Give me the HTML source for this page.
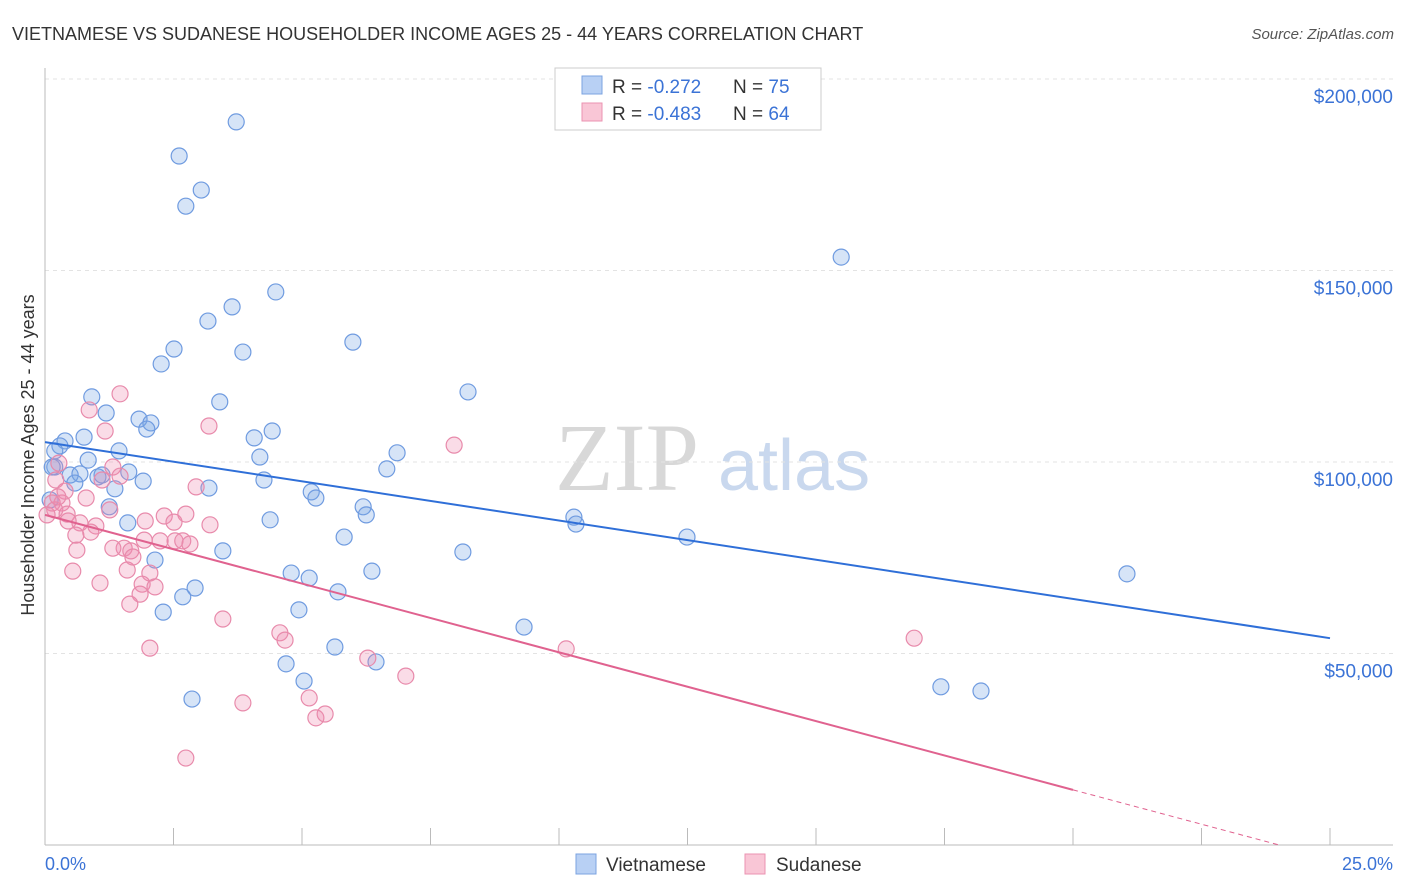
<!DOCTYPE html>
<html><head><meta charset="utf-8"><style>
body{margin:0;background:#fff;font-family:"Liberation Sans",sans-serif;}
svg{display:block}
</style></head><body>
<svg id="chart" width="1406" height="892">
<text x="12" y="40" font-size="18" fill="#333">VIETNAMESE VS SUDANESE HOUSEHOLDER INCOME AGES 25 - 44 YEARS CORRELATION CHART</text>
<text x="1394" y="39" font-size="15" fill="#555" font-style="italic" text-anchor="end">Source: ZipAtlas.com</text>
<text x="555" y="490" font-size="96" fill="#d8d8d8" font-family="Liberation Serif,serif">ZIP</text>
<text x="718" y="490" font-size="72" fill="#c9d8ee">atlas</text>
<text transform="translate(34,455) rotate(-90)" font-size="18" fill="#333" text-anchor="middle">Householder Income Ages 25 - 44 years</text>
<g id="grid"></g><g id="pts"></g><g id="lines"></g>
<g>
<rect x="555" y="68" width="266" height="62" fill="#fff" stroke="#ccc"/>
<rect x="582" y="76" width="20" height="18" fill="#b8d0f4" stroke="#7ba3e0"/>
<rect x="582" y="103" width="20" height="18" fill="#f9c6d6" stroke="#eb93b1"/>
<text x="612" y="93" font-size="19" fill="#333">R = <tspan fill="#3b73d6">-0.272</tspan></text>
<text x="733" y="93" font-size="19" fill="#333">N = <tspan fill="#3b73d6">75</tspan></text>
<text x="612" y="120" font-size="19" fill="#333">R = <tspan fill="#3b73d6">-0.483</tspan></text>
<text x="733" y="120" font-size="19" fill="#333">N = <tspan fill="#3b73d6">64</tspan></text>
</g>
<text x="45" y="870" font-size="18" fill="#3b73d6">0.0%</text>
<text x="1393" y="870" font-size="18" fill="#3b73d6" text-anchor="end">25.0%</text>
<rect x="576" y="854" width="20" height="20" fill="#b8d0f4" stroke="#7ba3e0"/>
<text x="606" y="871" font-size="19" fill="#333">Vietnamese</text>
<rect x="745" y="854" width="20" height="20" fill="#f9c6d6" stroke="#eb93b1"/>
<text x="776" y="871" font-size="19" fill="#333">Sudanese</text>
</svg>
<script>
const yTicks=[50000,100000,150000,200000];
const yTickLabels=["$50,000","$100,000","$150,000","$200,000"];
const viX=[3.72,2.61,3.04,2.74,15.49,4.49,3.64,3.17,2.51,3.85,5.99,2.26,8.23,0.91,3.40,1.19,1.83,2.06,1.98,0.76,0.39,0.29,0.19,4.07,4.42,1.44,6.85,4.18,0.84,6.65,0.19,1.63,0.49,0.68,1.03,1.11,4.26,1.91,1.36,0.58,3.19,5.18,5.27,6.19,6.25,10.29,10.33,4.38,1.25,1.61,5.82,12.49,8.13,3.46,2.14,21.05,4.79,5.14,6.36,5.70,2.92,2.68,4.94,2.30,9.32,5.64,4.69,6.44,5.04,17.43,18.21,2.86,0.14,0.10];
const viY=[188.8,179.9,171.0,166.8,153.5,144.4,140.5,136.8,129.5,128.7,131.3,125.6,118.3,117.0,115.7,112.8,111.2,110.2,108.6,106.5,105.5,104.2,102.9,106.3,108.1,102.9,102.4,101.3,100.5,98.2,98.7,97.4,96.6,96.9,96.1,96.6,95.3,95.0,93.0,94.5,93.2,92.2,90.6,88.3,86.2,85.6,83.8,84.9,88.3,84.1,80.4,80.4,76.5,76.8,74.4,70.8,71.0,69.7,71.5,66.1,67.1,64.8,61.4,60.8,56.9,51.7,47.3,47.8,42.8,41.3,40.2,38.1,98.7,90.1];
const suX=[1.46,0.86,1.17,3.19,7.96,0.27,1.32,1.46,0.21,1.11,0.39,0.80,2.94,0.33,0.14,0.19,0.43,1.26,2.32,2.74,0.68,0.99,2.51,3.21,1.95,0.60,0.89,1.54,1.93,2.24,2.53,2.68,1.32,1.67,0.62,2.04,0.54,1.89,1.60,1.07,2.14,1.85,1.65,3.46,4.57,4.67,2.04,6.28,10.14,16.91,7.02,5.14,3.85,5.27,5.45,2.74,0.25,0.04,2.82,1.71,0.45];
const suY=[117.8,113.6,108.1,109.4,104.4,99.7,98.7,96.3,95.3,95.3,92.4,90.6,93.5,89.3,89.3,87.5,86.4,87.5,85.9,86.4,84.1,83.3,84.3,83.6,84.6,80.9,81.7,77.5,79.6,79.4,79.4,79.4,77.5,76.8,77.0,71.0,71.5,68.1,71.8,68.4,67.4,65.5,62.9,59.0,55.4,53.5,51.4,48.8,51.2,54.0,44.1,38.4,37.1,33.2,34.2,22.7,90.9,86.2,78.6,75.2,84.6];
const viTrend=[105.2,54.0];
const suTrend=[86.2,14.4];
const NS="http://www.w3.org/2000/svg";
const X=v=>45+v/25*1285;
const Y=k=>845-k/0.2611;
function mk(tag,attrs,parent){const e=document.createElementNS(NS,tag);for(const a in attrs)e.setAttribute(a,attrs[a]);parent.appendChild(e);return e;}
const grid=document.getElementById('grid');
yTicks.forEach((t,i)=>{
 const l=mk('line',{x1:45,x2:1393,y1:Y(t/1000),y2:Y(t/1000),stroke:'#e3e3e3','stroke-dasharray':'4,4'},grid);
 
 
 const tx=mk('text',{x:1393,y:Y(t/1000)+24,'font-size':19,fill:'#3b73d6','text-anchor':'end'},grid);
 tx.textContent=yTickLabels[i];
 
 
});
mk('line',{x1:45,x2:45,y1:68,y2:845,stroke:'#bbb'},grid);
mk('line',{x1:45,x2:1393,y1:845,y2:845,stroke:'#bbb'},grid);
for(let i=0;i<=10;i++){const t=mk('line',{x1:X(i*2.5),x2:X(i*2.5),y1:828,y2:845,stroke:'#bbb'},grid);
 
 }
const pts=document.getElementById('pts');
viX.forEach((v,i)=>{const c=mk('circle',{cx:X(v),cy:Y(viY[i]),r:8,fill:'rgba(120,165,230,0.3)',stroke:'#6f9be0','stroke-width':1.2},pts);
 
 });
suX.forEach((v,i)=>{const c=mk('circle',{cx:X(v),cy:Y(suY[i]),r:8,fill:'rgba(240,140,175,0.3)',stroke:'#e88aab','stroke-width':1.2},pts);
 
 });
const lines=document.getElementById('lines');
const bl=mk('line',{x1:X(0),y1:Y(viTrend[0]),x2:X(25),y2:Y(viTrend[1]),stroke:'#2f6fd8','stroke-width':2},lines);


const pl=mk('line',{x1:X(0),y1:Y(suTrend[0]),x2:X(20),y2:Y(suTrend[1]),stroke:'#e0628f','stroke-width':2},lines);


const slope=(suTrend[1]-suTrend[0])/20;
const xEnd=Math.min(25,-suTrend[0]/slope);
const pd=mk('line',{x1:X(20),y1:Y(suTrend[1]),x2:X(xEnd),y2:Y(suTrend[0]+slope*xEnd),stroke:'#e0628f','stroke-width':1,'stroke-dasharray':'5,4'},lines);


</script>
</body></html>
